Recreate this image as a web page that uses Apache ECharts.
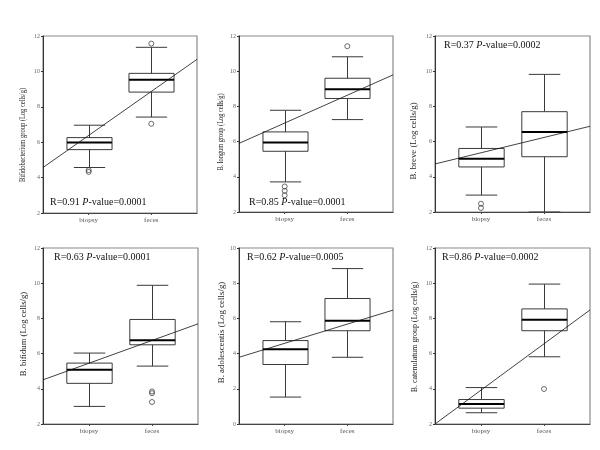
<!DOCTYPE html>
<html>
<head>
<meta charset="utf-8">
<script src="https://cdn.jsdelivr.net/npm/echarts@6/dist/echarts.min.js"></script>
<style>html,body{margin:0;padding:0;background:#fff}#c{width:600px;height:450px}</style>
</head>
<body>
<div id="c"></div>
<script>
// ---------- data ----------
const categories = ['biopsy', 'feces'];
const yTitles = [
  'Bifidobacterium group (Log cells/g)',
  'B. longum group (Log cells/g)',
  'B. breve (Log cells/g)',
  'B. bifidum (Log cells/g)',
  'B. adolescentis (Log cells/g)',
  'B. catenulatum group (Log cells/g)'
];
const rValues = ['0.91', '0.85', '0.37', '0.63', '0.62', '0.86'];
const pValues = ['0.0001', '0.0001', '0.0002', '0.0001', '0.0005', '0.0002'];
const yMins = [2, 2, 2, 2, 0, 2];
const yMaxs = [12, 12, 12, 12, 10, 12];
// box stats: [lower whisker, Q1, median, Q3, upper whisker] for biopsy, feces
const bifidoBiopsy = [4.57, 5.58, 5.98, 6.26, 6.96];
const bifidoFeces = [7.42, 8.83, 9.53, 9.89, 11.36];
const longumBiopsy = [3.71, 5.45, 5.95, 6.55, 7.78];
const longumFeces = [7.25, 8.45, 8.98, 9.6, 10.82];
const breveBiopsy = [2.96, 4.56, 5.03, 5.61, 6.83];
const breveFeces = [2.0, 5.14, 6.55, 7.70, 9.82];
const bifidumBiopsy = [3.0, 4.31, 5.08, 5.46, 6.03];
const bifidumFeces = [5.29, 6.50, 6.76, 7.94, 9.88];
const adolBiopsy = [1.53, 3.38, 4.25, 4.74, 5.81];
const adolFeces = [3.79, 5.30, 5.87, 7.13, 8.83];
const catenBiopsy = [2.64, 2.90, 3.13, 3.39, 4.07];
const catenFeces = [5.82, 7.30, 7.92, 8.54, 9.95];
// outliers: [category index (1 = biopsy, 2 = feces), value]
const bifidoOut = [[1, 4.32], [1, 4.42], [2, 11.57], [2, 7.04]];
const longumOut = [[1, 3.45], [1, 3.2], [1, 2.95], [2, 11.42]];
const breveOut = [[1, 2.47], [1, 2.23]];
const bifidumOut = [[2, 3.85], [2, 3.75], [2, 3.25]];
const adolOut = [];
const catenOut = [[2, 3.99]];
// regression line: y at left edge, y at right edge of plot
const regLeft = [4.57, 5.9, 4.73, 4.51, 3.79, 2.0];
const regRight = [10.68, 9.79, 6.87, 7.69, 6.47, 8.48];

const boxes = [
  [bifidoBiopsy, bifidoFeces], [longumBiopsy, longumFeces], [breveBiopsy, breveFeces],
  [bifidumBiopsy, bifidumFeces], [adolBiopsy, adolFeces], [catenBiopsy, catenFeces]
];
const outliers = [bifidoOut, longumOut, breveOut, bifidumOut, adolOut, catenOut];

// ---------- layout / style ----------
const X_MIN = 0.27, X_MAX = 2.73;
const BOX_W = 0.72, CAP_W = 0.5;
const grids = [
  {left: 43, top: 36, width: 154, height: 177},
  {left: 239, top: 36, width: 154, height: 176},
  {left: 435, top: 36, width: 155, height: 176},
  {left: 43, top: 248, width: 155, height: 176},
  {left: 239, top: 248, width: 154, height: 176},
  {left: 435, top: 248, width: 155, height: 176}
];
// y-title: center x, center y, font size, horizontal squeeze
const titleLayout = [
  [23, 135, 8, 0.81],
  [221, 132, 7.2, 0.88],
  [414, 141, 8.8, 1],
  [23.5, 334, 8.7, 1],
  [222, 332.5, 8.9, 1],
  [415, 337, 7.9, 1]
];
const notePos = [[50, 203], [249, 203], [444, 46], [54, 258], [247, 258], [442, 258]];
const SERIF = 'Liberation Serif';

function renderBox(params, api) {
  const x = api.value(0);
  const lo = api.coord([x, api.value(1)]);
  const q1 = api.coord([x, api.value(2)]);
  const md = api.coord([x, api.value(3)]);
  const q3 = api.coord([x, api.value(4)]);
  const hi = api.coord([x, api.value(5)]);
  const bw = api.size([BOX_W, 0])[0];
  const cw = api.size([CAP_W, 0])[0];
  const cx = Math.round(lo[0]) + 0.5;
  const ln = (x1, y1, x2, y2, w, c) => ({type: 'line', shape: {x1, y1, x2, y2}, style: {stroke: c, lineWidth: w}});
  const col = '#3a3a3a';
  return {
    type: 'group',
    children: [
      ln(cx, hi[1], cx, q3[1], 1, col),
      ln(cx, q1[1], cx, lo[1], 1, col),
      ln(cx - cw / 2, hi[1], cx + cw / 2, hi[1], 1, col),
      ln(cx - cw / 2, lo[1], cx + cw / 2, lo[1], 1, col),
      {type: 'rect', shape: {x: cx - bw / 2, y: q3[1], width: bw, height: q1[1] - q3[1]},
        style: {fill: 'none', stroke: col, lineWidth: 1}},
      ln(cx - bw / 2, md[1], cx + bw / 2, md[1], 2, '#000')
    ]
  };
}

const option = {
  animation: false,
  backgroundColor: '#fff',
  grid: [], xAxis: [], yAxis: [], series: [], graphic: []
};

for (let i = 0; i < 6; i++) {
  option.grid.push(Object.assign({show: true, borderColor: '#8a8a8a', borderWidth: 1.2, backgroundColor: 'transparent'}, grids[i]));
  option.xAxis.push({
    type: 'value', gridIndex: i, min: X_MIN, max: X_MAX,
    axisLine: {show: true, lineStyle: {color: '#444', width: 1}},
    axisTick: {show: true, customValues: [1, 2], length: 2, lineStyle: {color: '#444'}},
    axisLabel: {
      customValues: [1, 2], fontSize: 7, color: '#555', fontFamily: SERIF, margin: 4,
      formatter: v => categories[Math.round(v) - 1] || ''
    },
    splitLine: {show: false}
  });
  option.yAxis.push({
    type: 'value', gridIndex: i, min: yMins[i], max: yMaxs[i], interval: 2,
    axisLine: {show: true, lineStyle: {color: '#333', width: 1}},
    axisTick: {show: true, length: 2, lineStyle: {color: '#333'}},
    axisLabel: {fontSize: 6, color: '#666', fontFamily: SERIF, margin: 3},
    splitLine: {show: false}
  });
  option.series.push({
    type: 'custom', xAxisIndex: i, yAxisIndex: i, renderItem: renderBox,
    encode: {x: 0, y: [1, 2, 3, 4, 5]},
    data: boxes[i].map((b, k) => [k + 1].concat(b)), silent: true, z: 3
  });
  option.series.push({
    type: 'scatter', xAxisIndex: i, yAxisIndex: i, data: outliers[i],
    symbol: 'circle', symbolSize: 5,
    itemStyle: {color: 'rgba(0,0,0,0)', borderColor: '#333', borderWidth: 0.9}, silent: true, z: 4
  });
  option.series.push({
    type: 'line', xAxisIndex: i, yAxisIndex: i, data: [[X_MIN, regLeft[i]], [X_MAX, regRight[i]]],
    symbol: 'none', clip: true, lineStyle: {color: '#111', width: 0.8}, silent: true, z: 5
  });
  const t = titleLayout[i];
  option.graphic.push({
    type: 'text', x: t[0], y: t[1], rotation: Math.PI / 2, scaleX: t[3], scaleY: 1, z: 10,
    style: {
      text: yTitles[i], fontFamily: SERIF, fontSize: t[2], fill: '#222',
      align: 'center', verticalAlign: 'middle'
    }
  });
  option.graphic.push({
    type: 'text', left: notePos[i][0], top: notePos[i][1] - 6, z: 10,
    style: {
      text: '{a|R=' + rValues[i] + ' }{b|P}{a|-value=' + pValues[i] + '}',
      rich: {
        a: {fontFamily: SERIF, fontSize: 10, fill: '#111'},
        b: {fontFamily: SERIF, fontSize: 10, fontStyle: 'italic', fill: '#111'}
      }
    }
  });
}

const chart = echarts.init(document.getElementById('c'), null, {renderer: 'canvas'});
chart.setOption(option);
</script>
</body>
</html>
